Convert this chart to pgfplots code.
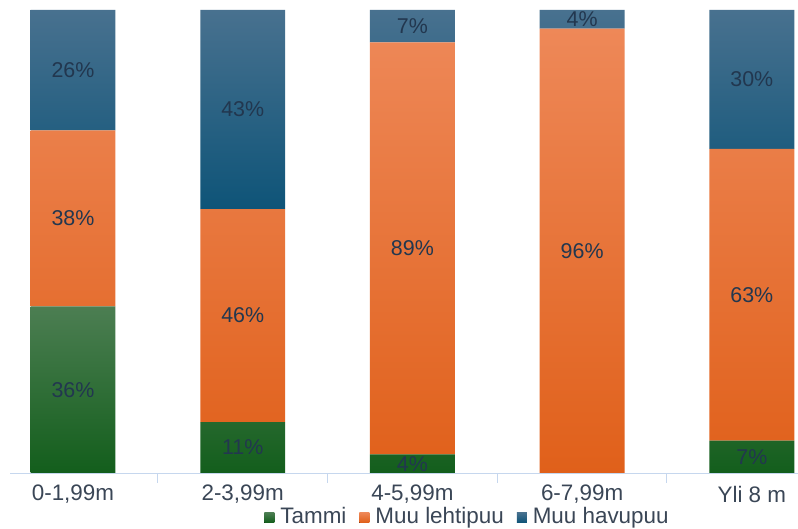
\documentclass[border=0pt]{standalone}
\usepackage{fontspec}
\setmainfont{Liberation Sans}
\usepackage{pgfplots}
\pgfplotsset{compat=1.18}
\definecolor{gtop}{HTML}{4C7E52}
\definecolor{gmid}{HTML}{1A6E26}
\definecolor{gbot}{HTML}{135E1C}
\definecolor{otop}{HTML}{EE8858}
\definecolor{omid}{HTML}{F07228}
\definecolor{obot}{HTML}{E0601A}
\definecolor{btop}{HTML}{48718F}
\definecolor{bmid}{HTML}{14618A}
\definecolor{bbot}{HTML}{0E5478}
\definecolor{axcol}{HTML}{C6D7EE}
\definecolor{lab}{HTML}{22374F}
\definecolor{txt}{HTML}{3A4656}
\begin{document}
\begin{tikzpicture}
\begin{axis}[
  at={(10bp,56bp)}, anchor=south west,
  scale only axis, width=788bp, height=463bp,
  xmin=-0.371, xmax=4.272, ymin=0, ymax=100,
  ybar stacked, bar width=0.5,
  axis x line*=bottom, hide y axis,
  x axis line style={color=axcol, line width=1bp, -},
  xtick={0,1,2,3,4},
  xticklabels={0-1{,}99m, 2-3{,}99m, 4-5{,}99m, 6-7{,}99m, Yli 8 m},
  major tick length=0pt,
  xticklabel style={anchor=center, yshift=-21bp, font=\fontsize{22.5}{26}\selectfont, text=txt},
  extra x ticks={0.5,1.5,2.5,3.5},
  extra x tick labels={},
  extra x tick style={major tick length=10bp, tick align=outside, tick style={color=axcol, line width=1bp}},
  legend columns=-1,
  legend style={at={(0.58,-0.094)}, anchor=center, draw=none, fill=none,
    font=\fontsize{22.5}{26}\selectfont, text=txt,
    /tikz/every even column/.append style={column sep=10bp}},
  legend image code/.code={\fill[#1] (0bp,-6bp) rectangle (10bp,4bp); \path (-1bp,0bp) -- (14bp,0bp);},
]
\addplot[draw=none, top color=gtop, middle color=gmid, bottom color=gbot] coordinates {(0,36) (1,11) (2,4) (3,0) (4,7)};
\addlegendentry{Tammi}
\addplot[draw=none, top color=otop, middle color=omid, bottom color=obot] coordinates {(0,38) (1,46) (2,89) (3,96) (4,63)};
\addlegendentry{Muu lehtipuu}
\addplot[draw=none, top color=btop, middle color=bmid, bottom color=bbot] coordinates {(0,26) (1,43) (2,7) (3,4) (4,30)};
\addlegendentry{Muu havupuu}
\end{axis}
\begin{axis}[
  at={(10bp,56bp)}, anchor=south west,
  scale only axis, width=788bp, height=463bp,
  xmin=-0.371, xmax=4.272, ymin=0, ymax=100,
  hide axis,
]
\addplot[only marks, mark=none, nodes near coords, point meta=explicit symbolic,
  every node near coord/.style={anchor=center, font=\fontsize{21.5}{25}\selectfont, text=lab}]
  coordinates {
  (0,18) [36\%] (0,55) [38\%] (0,87) [26\%]
  (1,5.5) [11\%] (1,34) [46\%] (1,78.5) [43\%]
  (2,2) [4\%] (2,48.5) [89\%] (2,96.5) [7\%]
  (3,48) [96\%] (3,98) [4\%]
  (4,3.5) [7\%] (4,38.5) [63\%] (4,85) [30\%]
  };
\end{axis}
\pgfresetboundingbox
\useasboundingbox (0,0) rectangle (798bp,529bp);
\end{tikzpicture}
\end{document}
